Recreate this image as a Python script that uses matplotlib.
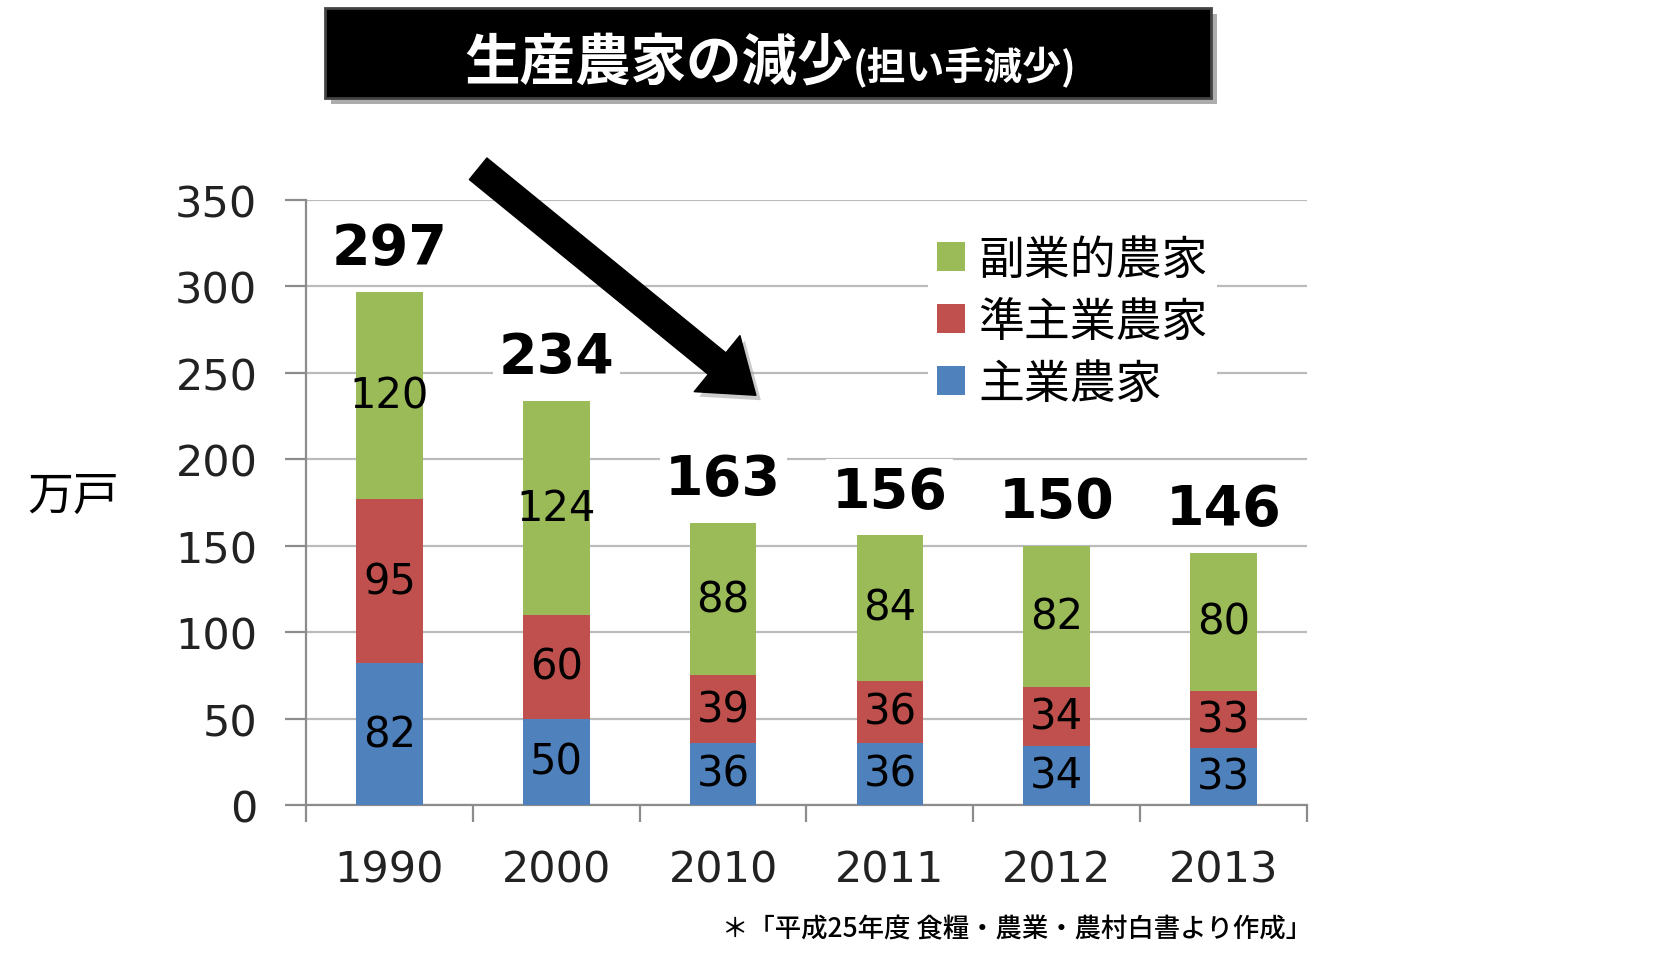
import numpy as np
import matplotlib
matplotlib.use('Agg')
import matplotlib.pyplot as plt
from matplotlib.patches import Rectangle, FancyArrowPatch

plt.rcParams['font.family'] = ['DejaVu Sans', 'Noto Sans CJK JP']

# data (万戸)
years = ['1990', '2000', '2010', '2011', '2012', '2013']
main_farm = [82, 50, 36, 36, 34, 33]      # 主業農家
semi_farm = [95, 60, 39, 36, 34, 33]      # 準主業農家
side_farm = [120, 124, 88, 84, 82, 80]    # 副業的農家
totals = [297, 234, 163, 156, 150, 146]
series_names = ['主業農家', '準主業農家', '副業的農家']

blue = '#4F81BD'
red = '#C0504D'
green = '#9BBB59'
gray = '#8C8C8C'

W, H = 1680, 954
fig = plt.figure(figsize=(W / 100, H / 100), dpi=100)
ax = fig.add_axes([306 / W, 148 / H, 1001 / W, 605 / H])

x = np.arange(len(years))
bw = 0.4
b1 = ax.bar(x, main_farm, bw, color=blue, label=series_names[0], zorder=3)
b2 = ax.bar(x, semi_farm, bw, bottom=main_farm, color=red,
            label=series_names[1], zorder=3)
bottom2 = np.array(main_farm) + np.array(semi_farm)
b3 = ax.bar(x, side_farm, bw, bottom=bottom2, color=green,
            label=series_names[2], zorder=3)

# segment labels
for bars in (b1, b2, b3):
    ax.bar_label(bars, label_type='center', fontsize=30, color='black',
                 zorder=5)

# total labels above bars
for xi, t in zip(x, totals):
    ax.annotate(str(t), (xi, t), xytext=(0, 12), textcoords='offset points',
                ha='center', va='bottom', fontsize=40, fontweight='bold',
                bbox=dict(boxstyle='square,pad=0.1', fc='white', ec='none'),
                zorder=6)

ax.set_xlim(-0.5, len(years) - 0.5)
ax.set_ylim(0, 350)
ax.set_yticks(np.arange(0, 351, 50))
ax.set_xticks(x)
ax.set_xticklabels(years)
ax.set_xticks(np.arange(-0.5, len(years)), minor=True)

ax.yaxis.grid(True, color='#BBBBBB', linewidth=1.6, zorder=0)
ax.set_axisbelow(True)
for s in ('top', 'right'):
    ax.spines[s].set_visible(False)
for s in ('left', 'bottom'):
    ax.spines[s].set_color(gray)
    ax.spines[s].set_linewidth(1.6)

ax.tick_params(axis='y', length=15, width=1.6, color=gray, pad=20,
               labelsize=31, labelcolor='#222222')
ax.tick_params(axis='x', which='major', length=0, pad=31,
               labelsize=31, labelcolor='#222222')
ax.tick_params(axis='x', which='minor', length=12, width=1.6, color=gray)

# legend
handles = [b3, b2, b1]
leg = ax.legend(handles, [series_names[2], series_names[1], series_names[0]],
                loc='upper left', bbox_to_anchor=(905 / W, 1 - 204 / H),
                bbox_transform=fig.transFigure,
                prop={'family': ['Noto Sans CJK JP'], 'size': 33},
                frameon=True, facecolor='white', edgecolor='none',
                framealpha=1, fancybox=False, handlelength=0.6,
                handleheight=0.6, handletextpad=0.3, labelspacing=0.3,
                borderpad=0.2)
leg.set_zorder(4)

# y unit label
fig.text(27 / W, 1 - 497 / H, '万戸', fontsize=33, ha='left', va='center',
         family=['Noto Sans CJK JP'])

# title box with shadow
fig.add_artist(Rectangle((331 / W, 1 - 105 / H), 886 / W, 90 / H,
                         transform=fig.transFigure, fc='#777777', ec='none',
                         alpha=0.6, zorder=1))
fig.add_artist(Rectangle((325 / W, 1 - 99 / H), 886 / W, 90 / H,
                         transform=fig.transFigure, fc='black', ec='#444444',
                         lw=2, zorder=2))
fig.text(853 / W, 1 - 80 / H, '生産農家の減少', fontsize=40, fontweight='bold',
         color='white', ha='right', va='baseline',
         family=['Noto Sans CJK JP'], zorder=3)
fig.text(853 / W, 1 - 80 / H, '(担い手減少)', fontsize=28, fontweight='bold',
         color='white', ha='left', va='baseline',
         family=['Noto Sans CJK JP'], zorder=3)

# downward arrow with shadow
start = np.array([476, 954 - 168])
end = np.array([758, 954 - 398])
style = 'simple,head_length=0.9,head_width=1.3,tail_width=0.5'
shadow = FancyArrowPatch((start[0] + 5, start[1] - 5), (end[0] + 5, end[1] - 5),
                         transform=None, arrowstyle=style, mutation_scale=40,
                         fc='#999999', ec='none', alpha=0.5, zorder=7)
arrow = FancyArrowPatch(tuple(start), tuple(end), transform=None,
                        arrowstyle=style, mutation_scale=40,
                        fc='black', ec='black', zorder=8)
fig.add_artist(shadow)
fig.add_artist(arrow)

# source note
fig.text(1312 / W, 1 - 930 / H, '＊「平成25年度 食糧・農業・農村白書より作成」',
         fontsize=19, ha='right', va='center', fontweight='medium',
         family=['Noto Sans CJK JP'])

fig.savefig('out.png', dpi=100)
